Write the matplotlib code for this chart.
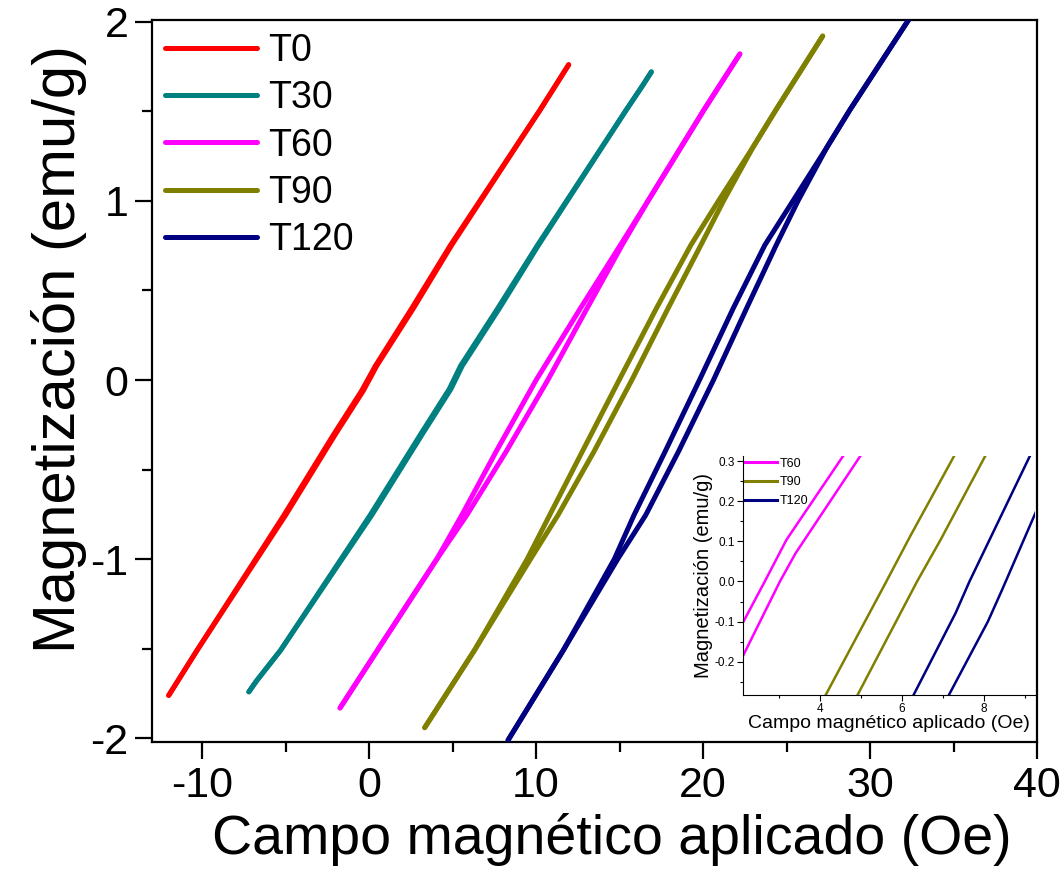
import matplotlib
matplotlib.use("Agg")
import matplotlib.pyplot as plt
from matplotlib.ticker import MultipleLocator, FormatStrFormatter

plt.rcParams['font.family'] = ['Liberation Sans', 'DejaVu Sans']
plt.rcParams['axes.unicode_minus'] = False

# ---------------- main data ----------------
labels = ["T0", "T30", "T60", "T90", "T120"]
colors = ["#FF0000", "#008080", "#FF00FF", "#808000", "#000080"]

M_T0 = [-1.76, -1.508, -0.754, -0.30, -0.06, 0.08, 0.40, 0.754, 1.508, 1.76]
H_T0_desc = [-12.0, -10.3, -5.1, -2.10, -0.45, 0.38, 2.55, 4.88, 10.24, 11.95]
H_T0_asc = [-12.0, -10.3, -5.0, -2.00, -0.35, 0.46, 2.65, 4.95, 10.24, 11.95]

M_T30 = [-1.74, -1.68, -1.508, -0.754, -0.30, -0.05, 0.08, 0.40, 0.754, 1.508, 1.64, 1.72]
H_T30_desc = [-7.2, -6.75, -5.3, 0.06, 3.1, 4.80, 5.48, 7.70, 10.09, 15.4, 16.35, 16.9]
H_T30_asc = [-7.2, -6.75, -5.3, 0.16, 3.2, 4.90, 5.58, 7.80, 10.15, 15.4, 16.35, 16.9]

M_T60 = [-1.83, -1.508, -1.0, -0.754, -0.4, 0.0, 0.4, 0.754, 1.0, 1.508, 1.82]
H_T60_desc = [-1.74, 0.50, 4.05, 5.55, 7.60, 10.00, 12.65, 15.05, 16.70, 20.05, 22.20]
H_T60_asc = [-1.74, 0.50, 4.05, 5.85, 8.20, 10.70, 13.05, 15.15, 16.70, 20.05, 22.20]

M_T90 = [-1.94, -1.508, -1.0, -0.754, -0.4, 0.0, 0.4, 0.754, 1.0, 1.3, 1.508, 1.92]
H_T90_desc = [3.33, 6.31, 9.46, 10.81, 12.76, 14.97, 17.20, 19.27, 20.92, 22.99, 24.36, 27.16]
H_T90_asc = [3.33, 6.31, 9.66, 11.31, 13.46, 15.73, 17.90, 19.87, 21.22, 22.99, 24.36, 27.16]

M_T120 = [-2.01, -1.508, -1.0, -0.754, -0.4, 0.0, 0.4, 0.754, 1.0, 1.3, 1.508, 2.01]
H_T120_desc = [8.32, 11.63, 14.68, 15.86, 17.72, 19.78, 21.80, 23.70, 25.38, 27.42, 28.79, 32.3]
H_T120_asc = [8.32, 11.63, 14.88, 16.56, 18.52, 20.62, 22.60, 24.38, 25.68, 27.42, 28.79, 32.3]

main_series = [
    (M_T0, H_T0_desc, H_T0_asc),
    (M_T30, H_T30_desc, H_T30_asc),
    (M_T60, H_T60_desc, H_T60_asc),
    (M_T90, H_T90_desc, H_T90_asc),
    (M_T120, H_T120_desc, H_T120_asc),
]

# ---------------- inset data ----------------
inset_labels = ["T60", "T90", "T120"]
inset_colors = ["#FF00FF", "#808000", "#000080"]

ins_T60_a_H = [2.0, 2.65, 3.18, 4.56, 4.70]
ins_T60_a_M = [-0.125, 0.0, 0.104, 0.3125, 0.33]
ins_T60_b_H = [2.0, 3.02, 3.40, 4.98, 5.10]
ins_T60_b_M = [-0.21, 0.0, 0.07, 0.3125, 0.33]

ins_T90_a_H = [4.05, 5.62, 6.20, 7.28, 7.40]
ins_T90_a_M = [-0.30, 0.0, 0.1125, 0.314, 0.33]
ins_T90_b_H = [4.83, 6.37, 6.95, 8.04, 8.15]
ins_T90_b_M = [-0.30, 0.0, 0.105, 0.314, 0.33]

ins_T120_a_H = [6.20, 7.31, 7.65, 9.13, 9.25]
ins_T120_a_M = [-0.30, -0.079, 0.0, 0.314, 0.33]
ins_T120_b_H = [7.06, 8.10, 8.45, 9.30]
ins_T120_b_M = [-0.30, -0.10, -0.02, 0.18]

inset_series = [
    ((ins_T60_a_H, ins_T60_a_M), (ins_T60_b_H, ins_T60_b_M)),
    ((ins_T90_a_H, ins_T90_a_M), (ins_T90_b_H, ins_T90_b_M)),
    ((ins_T120_a_H, ins_T120_a_M), (ins_T120_b_H, ins_T120_b_M)),
]

# ---------------- figure ----------------
fig = plt.figure(figsize=(10.6, 8.83), dpi=100)
ax = fig.add_axes([0.1434, 0.1597, 0.835, 0.8177])

for (M, hd, ha), lab, c in zip(main_series, labels, colors):
    ax.plot(hd, M, color=c, lw=3.6, solid_capstyle='round', solid_joinstyle='round',
            label=lab, zorder=3)
    ax.plot(ha, M, color=c, lw=3.6, solid_capstyle='round', solid_joinstyle='round',
            zorder=3)

ax.set_xlim(-13, 40)
ax.set_ylim(-2.02, 2.01)
ax.xaxis.set_major_locator(MultipleLocator(10))
ax.xaxis.set_minor_locator(MultipleLocator(5))
ax.yaxis.set_major_locator(MultipleLocator(1))
ax.yaxis.set_minor_locator(MultipleLocator(0.5))
ax.tick_params(which='both', direction='out', top=False, right=False, width=1.6)
ax.tick_params(which='major', length=12, labelsize=31, pad=5)
ax.tick_params(which='minor', length=7)
for s in ax.spines.values():
    s.set_linewidth(1.6)

ax.set_xlabel("Campo magnético aplicado (Oe)", fontsize=40)
ax.set_ylabel("Magnetización (emu/g)", fontsize=43)
ax.xaxis.set_label_coords(0.519, -0.098)
ax.yaxis.set_label_coords(-0.074, 0.544)

leg = ax.legend(loc='upper left', frameon=False, fontsize=27, handlelength=2.45,
                handletextpad=0.3, labelspacing=0.3, borderaxespad=0.2,
                borderpad=0.15)
for h in leg.get_lines():
    h.set_linewidth(3.6)

# ---------------- inset ----------------
axi = fig.add_axes([0.701, 0.213, 0.275, 0.271])
for (a, b), lab, c in zip(inset_series, inset_labels, inset_colors):
    axi.plot(a[0], a[1], color=c, lw=1.8, label=lab)
    axi.plot(b[0], b[1], color=c, lw=1.8)
axi.set_xlim(2.12, 9.24)
axi.set_ylim(-0.283, 0.314)
axi.xaxis.set_major_locator(MultipleLocator(2))
axi.xaxis.set_minor_locator(MultipleLocator(1))
axi.yaxis.set_major_locator(MultipleLocator(0.1))
axi.yaxis.set_minor_locator(MultipleLocator(0.05))
axi.spines['top'].set_visible(False)
axi.spines['right'].set_visible(False)
axi.tick_params(which='both', direction='out', top=False, right=False, width=0.8)
axi.tick_params(which='major', length=4, labelsize=8.5, pad=2)
axi.tick_params(which='minor', length=2.5)
axi.yaxis.set_major_formatter(FormatStrFormatter('%.1f'))
axi.set_xlabel("Campo magnético aplicado (Oe)", fontsize=14, labelpad=0)
axi.set_ylabel("Magnetización (emu/g)", fontsize=14.5, labelpad=1)
li = axi.legend(loc='upper left', frameon=False, fontsize=9, handlelength=2.6,
                handletextpad=0.2, labelspacing=0.55, borderaxespad=0.1, borderpad=0.05)
for h in li.get_lines():
    h.set_linewidth(2.2)

fig.savefig("out.png", dpi=100)
